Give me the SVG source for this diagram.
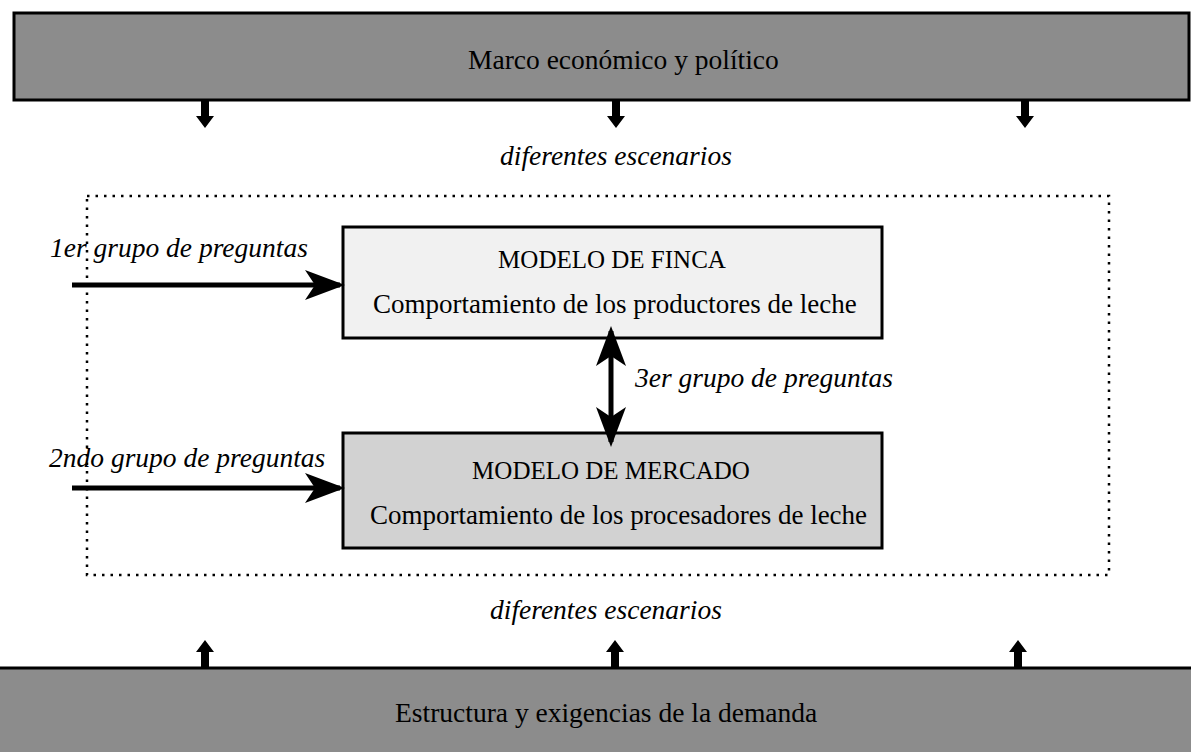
<svg xmlns="http://www.w3.org/2000/svg" width="1191" height="752" viewBox="0 0 1191 752">
<style>
.t{font-family:"Liberation Serif","Times New Roman",serif;fill:#000}
.i{font-style:italic;font-size:27.5px}
.h{font-size:25px}
.n{font-size:27px}
.b{font-size:27.5px}
.bar{fill:#8c8c8c;stroke:#000;stroke-width:3}
.ln{stroke:#000;stroke-width:5;fill:none}
</style>
<defs>
<marker id="ah" markerWidth="8" markerHeight="6" refX="7" refY="3" orient="auto" markerUnits="strokeWidth">
<path d="M0,0 L8,3 L0,6 L2,3 z" fill="#000"/>
</marker>
<path id="blk" d="M-4,0 L4,0 L4,16 L9,16 L0,28 L-9,16 L-4,16 z" fill="#000"/>
</defs>
<g id="marco">
<rect class="bar" x="14" y="13" width="1175" height="87"/>
<text class="t b" x="468" y="69">Marco económico y político</text>
</g>
<g id="demanda">
<rect class="bar" x="-5" y="668" width="1200" height="100"/>
<text class="t b" x="395" y="722">Estructura y exigencias de la demanda</text>
</g>
<g id="escenario-box">
<rect x="87" y="196" width="1022" height="379" fill="none" stroke="#000" stroke-width="2.5" stroke-dasharray="2.5,6"/>
</g>
<g id="finca">
<rect x="343" y="227" width="539" height="111" fill="#f1f1f1" stroke="#000" stroke-width="3"/>
<text class="t h" x="612" y="268" text-anchor="middle">MODELO DE FINCA</text>
<text class="t n" x="373" y="313">Comportamiento de los productores de leche</text>
</g>
<g id="mercado">
<rect x="343" y="433" width="539" height="115" fill="#d2d2d2" stroke="#000" stroke-width="3"/>
<text class="t h" x="611" y="479" text-anchor="middle">MODELO DE MERCADO</text>
<text class="t n" x="370" y="524">Comportamiento de los procesadores de leche</text>
</g>
<g id="labels">
<text class="t i" x="500" y="165">diferentes escenarios</text>
<text class="t i" x="490" y="619">diferentes escenarios</text>
<text class="t i" x="50" y="257">1er grupo de preguntas</text>
<text class="t i" x="49" y="467">2ndo grupo de preguntas</text>
<text class="t i" x="635" y="387">3er grupo de preguntas</text>
</g>
<g id="connectors">
<line class="ln" x1="72" y1="285" x2="340" y2="285" marker-end="url(#ah)"/>
<line class="ln" x1="72" y1="488" x2="340" y2="488" marker-end="url(#ah)"/>
<line class="ln" x1="611" y1="385" x2="611" y2="331" marker-end="url(#ah)"/>
<line class="ln" x1="611" y1="385" x2="611" y2="442" marker-end="url(#ah)"/>
<use href="#blk" x="205" y="100"/>
<use href="#blk" x="616" y="100"/>
<use href="#blk" x="1025" y="100"/>
<use href="#blk" transform="translate(205,668) scale(1,-1)"/>
<use href="#blk" transform="translate(615,668) scale(1,-1)"/>
<use href="#blk" transform="translate(1018,668) scale(1,-1)"/>
</g>
</svg>
